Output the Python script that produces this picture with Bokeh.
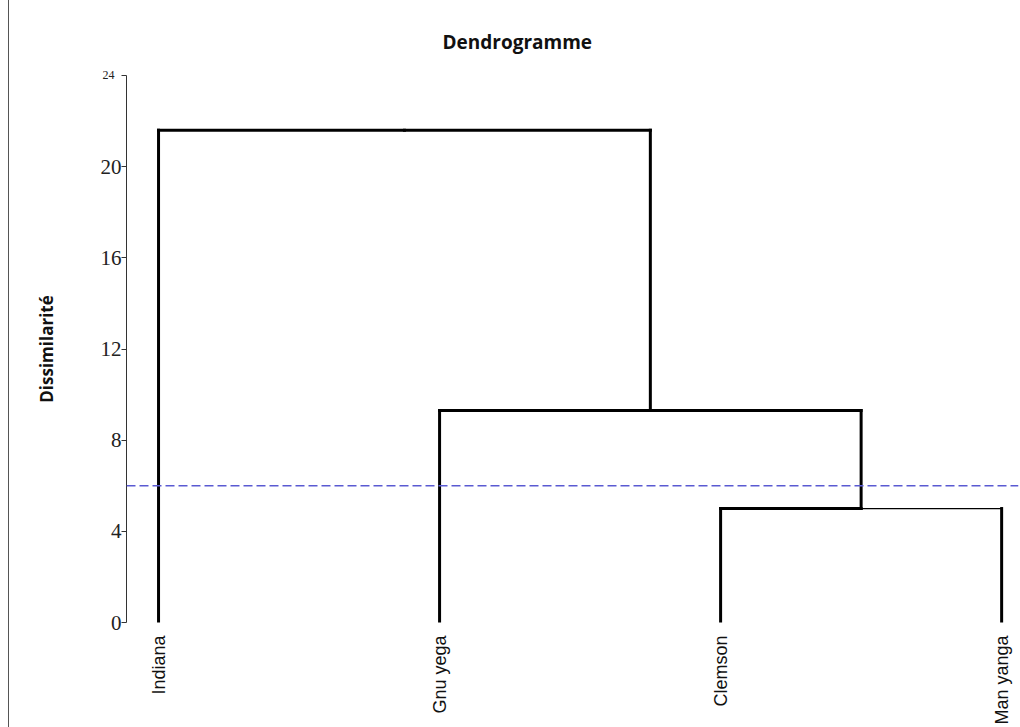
import math
from bokeh.plotting import figure
from bokeh.models import Range1d, FixedTicker, Span, Title
from bokeh.embed import file_html
from bokeh.resources import INLINE

# ---- data ----
leaves = ["Indiana", "Gnu yega", "Clemson", "Man yanga"]
# merges: indices < len(leaves) are leaves, others refer to earlier merges
merge_left = [2, 1, 0]
merge_right = [3, 4, 5]
merge_height = [5.0, 9.3, 21.6]
cut_height = 6.0
y_ticks = [0, 4, 8, 12, 16, 20, 24]
y_small_ticks = [24]

# ---- build dendrogram segments ----
n = len(leaves)
node_x = {i: i + 1 for i in range(n)}
node_y = {i: 0.0 for i in range(n)}
x0, y0, x1, y1, widths = [], [], [], [], []
for k, (a, b, h) in enumerate(zip(merge_left, merge_right, merge_height)):
    ax, ay, bx, by = node_x[a], node_y[a], node_x[b], node_y[b]
    mx = (ax + bx) / 2
    x0 += [ax, bx]; y0 += [ay, by]; x1 += [ax, bx]; y1 += [h, h]; widths += [3, 3]
    x0 += [ax, mx]; y0 += [h, h]; x1 += [mx, bx]; y1 += [h, h]
    widths += [3, 1.2 if k == 0 else 3]
    node_x[n + k] = mx
    node_y[n + k] = h

x_start, x_end = 0.886, 4.06
p = figure(width=1011, height=727, output_backend="svg", toolbar_location=None,
           x_range=Range1d(x_start, x_end), y_range=Range1d(0, 24),
           min_border_left=117, min_border_right=2, min_border_top=75,
           min_border_bottom=105, background_fill_color="white",
           border_fill_color="white", outline_line_color=None)
p.styles = {"margin-left": "8px", "border-left": "1px solid #555555"}

p.grid.visible = False

p.segment(x0=x0, y0=y0, x1=x1, y1=y1, line_color="black", line_width=widths,
          line_cap="square")

p.add_layout(Span(location=cut_height, dimension="width", line_color="#5a5ad2",
                  line_width=1.5, line_dash="9 4"))

# small label for the top tick, drawn as a title just above the frame's left edge
p.add_layout(Title(text=str(y_small_ticks[0]), align="left", offset=-24,
                   standoff=-7, text_font="Liberation Serif",
                   text_font_size="12px", text_font_style="normal",
                   text_color="#222222"), "above")

# title
p.title.text = "Dendrogramme"
p.title.align = "left"
p.title.offset = 316
p.title.standoff = 35
p.title.text_font = "Open Sans"
p.title.text_font_size = "19px"
p.title.text_font_style = "bold"
p.title.text_color = "#111111"

# y axis
ya = p.yaxis[0]
ya.ticker = FixedTicker(ticks=y_ticks)
ya.major_label_overrides = {t: "" for t in y_small_ticks}
ya.major_label_text_font = "Liberation Serif"
ya.major_label_text_font_size = "21px"
ya.major_label_text_color = "#222222"
ya.major_label_standoff = 0
ya.major_tick_in = 0
ya.major_tick_out = 5
ya.minor_tick_line_color = None
ya.axis_line_color = "#333333"
ya.major_tick_line_color = "#333333"
ya.axis_label = "Dissimilarité"
ya.axis_label_text_font = "Open Sans"
ya.axis_label_text_font_size = "17px"
ya.axis_label_text_font_style = "bold"
ya.axis_label_text_color = "#111111"
ya.axis_label_standoff = 40

# x axis (leaf labels)
xa = p.xaxis[0]
xa.ticker = FixedTicker(ticks=[node_x[i] for i in range(n)])
xa.major_label_overrides = {node_x[i]: leaves[i] for i in range(n)}
xa.major_label_orientation = math.pi / 2
xa.major_label_text_font = "Liberation Sans"
xa.major_label_text_font_size = "18px"
xa.major_label_text_color = "#111111"
xa.major_label_standoff = 7
xa.axis_line_color = None
xa.major_tick_line_color = None
xa.minor_tick_line_color = None

open("out.html", "w").write(file_html(p, INLINE))
